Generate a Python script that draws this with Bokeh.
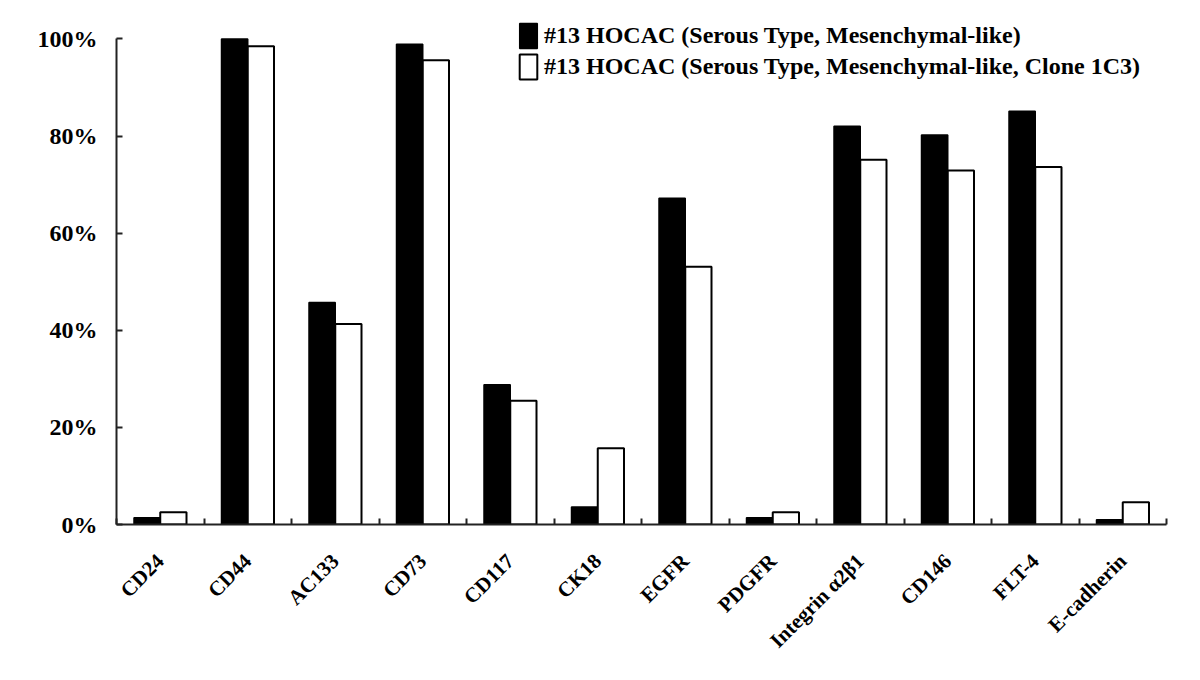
import numpy as np
from bokeh.plotting import figure
from bokeh.models import (ColumnDataSource, FixedTicker, PrintfTickFormatter,
                          Range1d, Legend, LegendItem)
from bokeh.embed import file_html
from bokeh.resources import INLINE

categories = ["CD24", "CD44", "AC133", "CD73", "CD117", "CK18", "EGFR",
              "PDGFR", "Integrin α2β1", "CD146", "FLT-4", "E-cadherin"]
parental = [1.4, 100.0, 45.7, 98.9, 28.8, 3.6, 67.2, 1.4, 82.0, 80.2, 85.1, 1.0]
clone_1c3 = [2.5, 98.5, 41.3, 95.6, 25.5, 15.7, 53.1, 2.5, 75.1, 72.9, 73.6, 4.6]
series_names = ["#13 HOCAC (Serous Type, Mesenchymal-like)",
                "#13 HOCAC (Serous Type, Mesenchymal-like, Clone 1C3)"]
y_ticks = [0, 20, 40, 60, 80, 100]

FONT = "Liberation Serif"
n = len(categories)
centers = np.arange(n) + 0.5
bw = 0.3

src = ColumnDataSource(dict(xa=centers - bw / 2, xb=centers + bw / 2,
                            a=parental, b=clone_1c3))

p = figure(width=1184, height=664, output_backend="svg", toolbar_location=None,
           x_range=Range1d(0, n), y_range=Range1d(0, 104),
           min_border_left=116, min_border_right=18, min_border_top=19,
           min_border_bottom=140)
p.outline_line_color = None
p.xgrid.visible = False
p.ygrid.visible = False

r1 = p.vbar(x="xa", top="a", width=bw, bottom=0, source=src,
            fill_color="black", line_color="black", line_width=1.5)
r2 = p.vbar(x="xb", top="b", width=bw, bottom=0, source=src,
            fill_color="white", line_color="black", line_width=2)

# x axis: labels at centers, ticks at category boundaries (minor ticks)
xa = p.xaxis[0]
xa.ticker = FixedTicker(ticks=list(centers), minor_ticks=list(range(n + 1)))
xa.major_label_overrides = {float(c): lab for c, lab in zip(centers, categories)}
xa.major_tick_in = 0
xa.major_tick_out = 0
xa.minor_tick_in = 6
xa.minor_tick_out = 0
xa.minor_tick_line_width = 2
xa.minor_tick_line_color = "#222222"
xa.major_label_orientation = np.pi / 4
xa.major_label_standoff = 33
xa.major_label_text_font = FONT
xa.major_label_text_font_style = "bold"
xa.major_label_text_font_size = "21px"
xa.major_label_text_color = "black"
xa.axis_line_width = 2
xa.axis_line_color = "#222222"

ya = p.yaxis[0]
ya.ticker = FixedTicker(ticks=y_ticks, minor_ticks=[])
ya.formatter = PrintfTickFormatter(format="%d%%")
ya.bounds = (0, 100)
ya.major_tick_in = 6
ya.major_tick_out = 0
ya.major_tick_line_width = 2
ya.major_tick_line_color = "#222222"
ya.major_label_standoff = 19
ya.major_label_text_font = FONT
ya.major_label_text_font_style = "bold"
ya.major_label_text_font_size = "24px"
ya.major_label_text_color = "black"
ya.axis_line_width = 2
ya.axis_line_color = "#222222"

legend = Legend(items=[LegendItem(label=series_names[0], renderers=[r1]),
                       LegendItem(label=series_names[1], renderers=[r2])],
                location=(401, 442), padding=0, margin=0, spacing=0,
                glyph_width=22, glyph_height=31, label_standoff=5,
                label_text_font=FONT, label_text_font_style="bold",
                label_text_font_size="24px", label_text_color="black",
                border_line_color=None, background_fill_alpha=0)
p.add_layout(legend, "center")

open("out.html", "w").write(file_html(p, INLINE))
